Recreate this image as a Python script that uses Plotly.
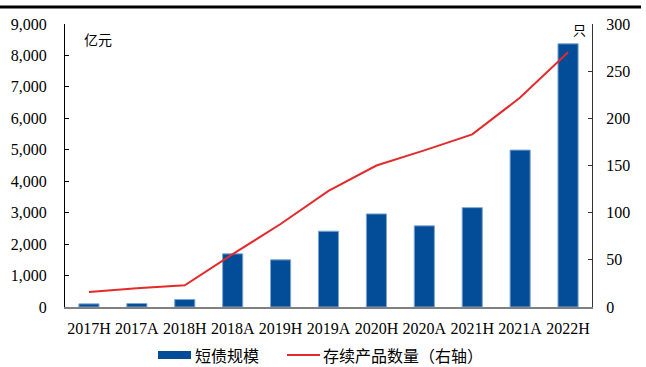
import plotly.graph_objects as go

# ---- data ----
periods = ["2017H", "2017A", "2018H", "2018A", "2019H", "2019A",
           "2020H", "2020A", "2021H", "2021A", "2022H"]
short_bond_scale = [100, 110, 240, 1690, 1500, 2410, 2960, 2580, 3160, 4990, 8370]   # 亿元
product_count = [16, 20, 23, 56, 88, 123, 150, 166, 183, 222, 270]                      # 只

left_ticks = list(range(0, 9001, 1000))
right_ticks = list(range(0, 301, 50))

# ---- layout constants ----
W, H = 646, 367
ML, MR, MT, MB = 65, 54, 24, 60
PW, PH = W - ML - MR, H - MT - MB

BAR_BLUE = "#034c97"
BAR_EDGE = "#7ea6d2"
LINE_RED = "#e52a2b"
SERIF = "Liberation Serif, Times New Roman, serif"
CJK = "Noto Sans CJK SC, sans-serif"


def px(x):
    return (x - ML) / PW


def py(y):
    return (H - MB - y) / PH


fig = go.Figure()

fig.add_trace(go.Bar(
    x=periods, y=short_bond_scale, name="短债规模",
    marker=dict(color=BAR_BLUE, line=dict(color=BAR_EDGE, width=1)),
    showlegend=False,
))
fig.add_trace(go.Scatter(
    x=periods, y=product_count, name="存续产品数量（右轴）", yaxis="y2",
    mode="lines", line=dict(color=LINE_RED, width=2),
    showlegend=False,
))

LEG_Y = 355

shapes = [
    # heavy rule across the top
    dict(type="line", xref="paper", yref="paper",
         x0=px(0), x1=px(641), y0=py(7), y1=py(7),
         line=dict(color="black", width=3)),
    # legend swatches
    dict(type="rect", xref="paper", yref="paper",
         x0=px(158), x1=px(191), y0=py(LEG_Y + 4), y1=py(LEG_Y - 4),
         fillcolor=BAR_BLUE, line=dict(width=0)),
    dict(type="line", xref="paper", yref="paper",
         x0=px(287), x1=px(320), y0=py(LEG_Y), y1=py(LEG_Y),
         line=dict(color=LINE_RED, width=2)),
]

annotations = [
    dict(text="亿元", xref="paper", yref="paper", x=px(82), y=py(39),
         xanchor="left", yanchor="middle", showarrow=False,
         font=dict(family=CJK, size=14, color="black")),
    dict(text="只", xref="paper", yref="paper", x=px(588), y=py(29),
         xanchor="right", yanchor="middle", showarrow=False,
         font=dict(family=CJK, size=13, color="black")),
    dict(text="短债规模", xref="paper", yref="paper", x=px(194), y=py(LEG_Y),
         xanchor="left", yanchor="middle", showarrow=False, borderpad=0,
         font=dict(family=CJK, size=16, color="black")),
    dict(text="存续产品数量（右轴）", xref="paper", yref="paper", x=px(322), y=py(LEG_Y),
         xanchor="left", yanchor="middle", showarrow=False, borderpad=0,
         font=dict(family=CJK, size=16, color="black")),
]

fig.update_layout(
    width=W, height=H,
    margin=dict(l=ML, r=MR, t=MT, b=MB, pad=0),
    paper_bgcolor="white", plot_bgcolor="white",
    bargap=0.58,
    shapes=shapes, annotations=annotations,
    xaxis=dict(
        type="category", range=[-0.5, len(periods) - 0.5],
        showline=True, linecolor="#808080", linewidth=2,
        ticks="", showgrid=False, zeroline=False,
        tickfont=dict(family=SERIF, size=16, color="black"),
        ticklabelstandoff=6,
    ),
    yaxis=dict(
        range=[0, 9000], tickvals=left_ticks,
        ticktext=[f"{v:,}" for v in left_ticks],
        showline=True, linecolor="black", linewidth=1,
        ticks="inside", ticklen=4, tickcolor="black",
        showgrid=False, zeroline=False,
        tickfont=dict(family=SERIF, size=16, color="black"),
        ticklabelstandoff=14,
    ),
    yaxis2=dict(
        overlaying="y", side="right", range=[0, 300], tickvals=right_ticks,
        showline=True, linecolor="#333333", linewidth=1,
        ticks="inside", ticklen=4, tickcolor="#333333",
        showgrid=False, zeroline=False,
        tickfont=dict(family=SERIF, size=16, color="black"),
        ticklabelstandoff=10,
    ),
)

fig.write_html("out.html")
